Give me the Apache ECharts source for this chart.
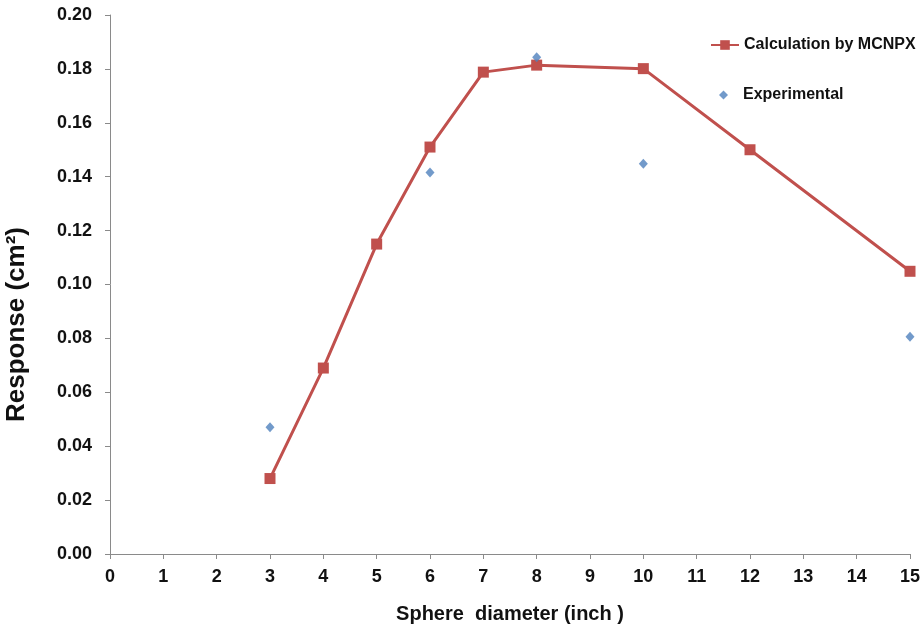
<!DOCTYPE html>
<html>
<head>
<meta charset="utf-8">
<script src="https://cdn.jsdelivr.net/npm/echarts@6/dist/echarts.min.js"></script>
<style>
  html, body { margin: 0; padding: 0; background: #fff; }
  #chart { width: 923px; height: 625px; }
</style>
</head>
<body>
<div id="chart"></div>
<script>
// Sphere diameters (inch) and detector responses (cm^2)
const calcDiameters = [3, 4, 5, 6, 7, 8, 10, 12, 15];
const calcResponse = [0.028, 0.069, 0.115, 0.151, 0.1788, 0.1814, 0.1801, 0.150, 0.1049];
const expDiameters = [3, 6, 8, 10, 15];
const expResponse = [0.047, 0.1416, 0.1843, 0.1448, 0.0806];

const calcName = 'Calculation by MCNPX';
const expName = 'Experimental';

const font = '"Liberation Sans", Arial, sans-serif';
const axisGrey = '#8a8a8a';
const red = '#C0504D';
const blue = '#4F81BD';

const legendText = { fontFamily: font, fontWeight: 'bold', fontSize: 16, color: '#111' };

const chart = echarts.init(document.getElementById('chart'));
chart.setOption({
  animation: false,
  backgroundColor: '#ffffff',
  grid: { left: 110, right: 13, top: 15, bottom: 71, containLabel: false, outerBoundsMode: 'none' },
  legend: [
    {
      left: 710,
      top: 37,
      padding: 0,
      itemWidth: 28,
      itemHeight: 12,
      textStyle: legendText,
      data: [calcName]
    },
    {
      left: 719,
      top: 87,
      padding: 0,
      itemWidth: 9,
      itemHeight: 9,
      textStyle: Object.assign({ padding: [0, 0, 0, 10] }, legendText),
      data: [{ name: expName, icon: 'diamond' }]
    }
  ],
  xAxis: {
    type: 'value',
    min: 0, max: 15, interval: 1,
    name: 'Sphere  diameter (inch )',
    nameLocation: 'middle',
    nameGap: 50,
    nameTextStyle: { fontFamily: font, fontWeight: 'bold', fontSize: 20, color: '#111' },
    axisLine: { show: true, lineStyle: { color: axisGrey, width: 1 } },
    axisTick: { show: true, inside: false, length: 5, lineStyle: { color: axisGrey } },
    axisLabel: { fontFamily: font, fontWeight: 'bold', fontSize: 18, color: '#111', margin: 14 },
    splitLine: { show: false }
  },
  yAxis: {
    type: 'value',
    min: 0, max: 0.2, interval: 0.02,
    name: 'Response (cm²)',
    nameLocation: 'middle',
    nameGap: 80,
    nameTextStyle: {
      fontFamily: font, fontWeight: 'bold', fontSize: 26, color: '#111',
      padding: [0, 80, 0, 0]
    },
    axisLine: { show: true, lineStyle: { color: axisGrey, width: 1 } },
    axisTick: { show: true, inside: false, length: 5, lineStyle: { color: axisGrey } },
    axisLabel: {
      fontFamily: font, fontWeight: 'bold', fontSize: 18, color: '#111', margin: 18,
      formatter: v => v.toFixed(2)
    },
    splitLine: { show: false }
  },
  series: [
    {
      name: calcName,
      type: 'line',
      data: calcDiameters.map((d, i) => [d, calcResponse[i]]),
      symbol: 'rect',
      symbolSize: 11,
      itemStyle: { color: red },
      lineStyle: { color: red, width: 3 },
      z: 2
    },
    {
      name: expName,
      type: 'scatter',
      data: expDiameters.map((d, i) => [d, expResponse[i]]),
      symbol: 'diamond',
      symbolSize: [9, 10],
      itemStyle: { color: blue },
      z: 3
    }
  ]
});
</script>
</body>
</html>
